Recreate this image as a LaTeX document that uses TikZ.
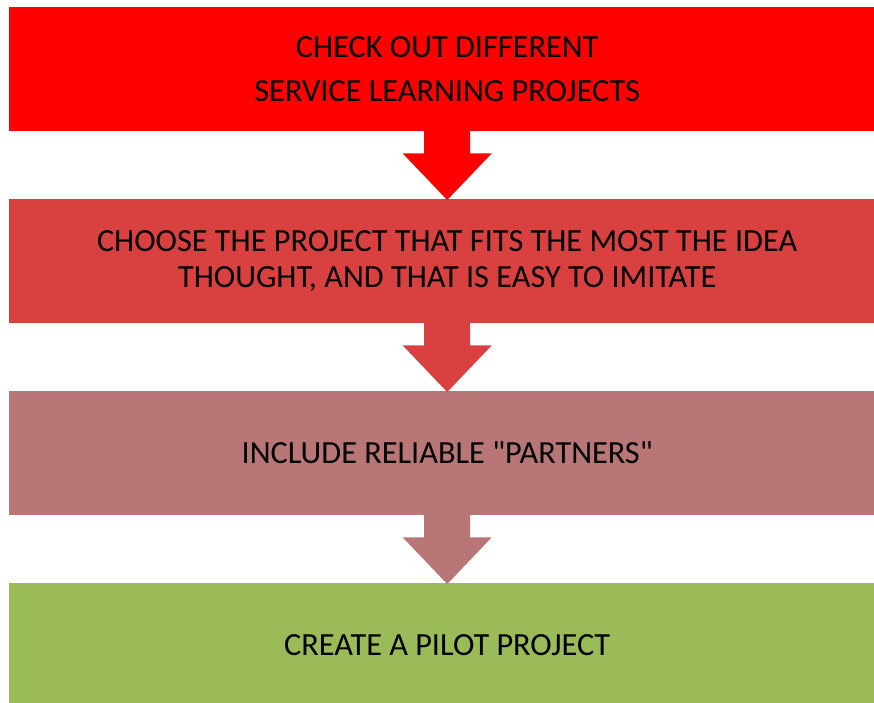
\documentclass[tikz,border=0pt]{standalone}
\usepackage{fontspec}
\setmainfont{Carlito}
\newfontfamily\qfont{Carlito}[Ligatures=TeXOff]
\usetikzlibrary{calc}
\definecolor{cone}{HTML}{FF0000}
\definecolor{ctwo}{HTML}{D94141}
\definecolor{cthree}{HTML}{B97676}
\definecolor{cfour}{HTML}{9BBB59}
\newcommand\blockarrow[3]{%
  \fill[#3] ($(#1.south)+(-23,-1)$) -- ($(#1.south)+(-23,22)$) -- ($(#1.south)+(-44.5,22)$)
    -- ($(#2.north)+(0,1)$) -- ($(#1.south)+(44.5,22)$) -- ($(#1.south)+(23,22)$)
    -- ($(#1.south)+(23,-1)$) -- cycle;}
\begin{document}
\begin{tikzpicture}[x=1pt,y=-1pt,
  box/.style={minimum width=876pt, minimum height=124pt, inner sep=0pt,
    align=center, anchor=north west, text=black},
  bigtext/.style={font=\fontsize{32.3}{44.5}\selectfont},
  midtext/.style={font=\fontsize{32.3}{35.5}\selectfont}]
\useasboundingbox (0,0) rectangle (874,702);
\clip (0,0) rectangle (874,702);
\fill[white] (0,0) rectangle (874,702);
\node[box, bigtext, fill=cone] (b1) at (9,7) {CHECK OUT DIFFERENT\\SERVICE LEARNING PROJECTS};
\node[box, midtext, fill=ctwo] (b2) at (9,199) {CHOOSE THE PROJECT THAT FITS THE MOST THE IDEA\\THOUGHT, AND THAT IS EASY TO IMITATE};
\node[box, bigtext, fill=cthree] (b3) at (9,391) {\qfont INCLUDE RELIABLE "PARTNERS"};
\node[box, bigtext, fill=cfour] (b4) at (9,583) {CREATE A PILOT PROJECT};
\blockarrow{b1}{b2}{cone}
\blockarrow{b2}{b3}{ctwo}
\blockarrow{b3}{b4}{cthree}
\end{tikzpicture}
\end{document}
